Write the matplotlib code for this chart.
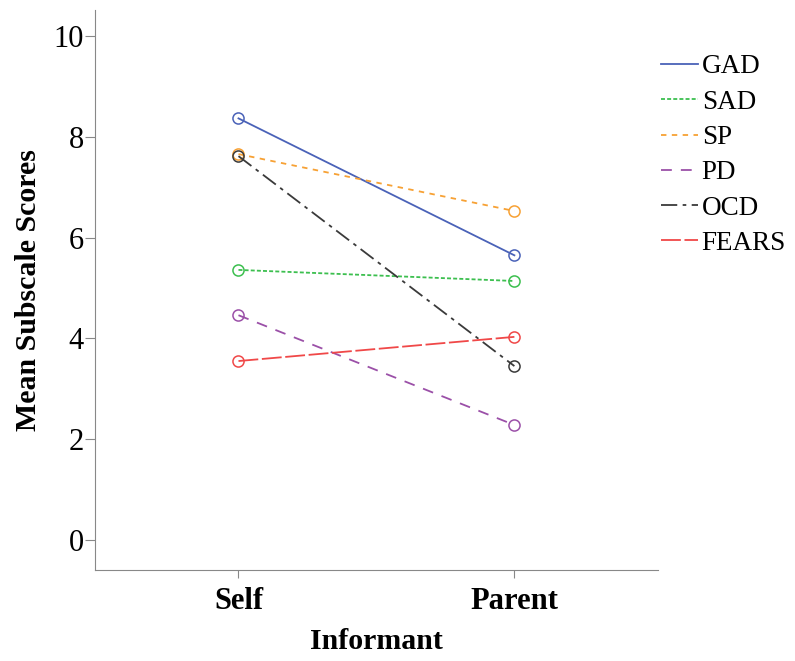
import matplotlib
matplotlib.use("Agg")
import matplotlib.pyplot as plt

informants = ["Self", "Parent"]
subscales = ["GAD", "SAD", "SP", "PD", "OCD", "FEARS"]
gad = [8.37, 5.65]
sad = [5.36, 5.14]
sp = [7.66, 6.53]
pd_ = [4.46, 2.28]
ocd = [7.62, 3.45]
fears = [3.55, 4.03]

colors = ["#4a62b8", "#3cbf4f", "#f7a134", "#9b50a8", "#3a3a3a", "#f04848"]
styles = ["-", (0, (2.2, 1.2)), (0, (3, 3)), (0, (6, 5)), (0, (9, 3, 2, 3)), (0, (11, 2))]

plt.rcParams["font.family"] = ["Liberation Serif", "DejaVu Serif"]

fig = plt.figure(figsize=(7.95, 6.61), dpi=100)
ax = fig.add_axes([0.1195, 0.1377, 0.708, 0.847])

x = list(range(len(informants)))
for name, vals, c, ls in zip(subscales, [gad, sad, sp, pd_, ocd, fears], colors, styles):
    ax.plot(x, vals, color=c, linestyle=ls, linewidth=1.3, marker="o",
            markersize=8, markerfacecolor="none", markeredgecolor=c,
            markeredgewidth=1.1, label=name)

ax.set_xlim(-0.52, 1.52)
ax.set_ylim(-0.6, 10.52)
ax.set_xticks(x)
ax.set_xticklabels(informants, fontsize=22, fontweight="bold")
ax.set_yticks([0, 2, 4, 6, 8, 10])
ax.tick_params(axis="y", labelsize=22, length=7, color="#888888", pad=1)
ax.tick_params(axis="x", length=6, color="#888888", pad=6)
for s in ["top", "right"]:
    ax.spines[s].set_visible(False)
for s in ["left", "bottom"]:
    ax.spines[s].set_color("#888888")
ax.set_xlabel("Informant", fontsize=21.5, fontweight="bold", labelpad=9)
ax.set_ylabel("Mean Subscale Scores", fontsize=21.5, fontweight="bold", labelpad=8)

leg = fig.legend(loc="upper left", bbox_to_anchor=(0.818, 0.934), frameon=False,
                 fontsize=19.5, handlelength=1.35, handletextpad=0.15,
                 labelspacing=0.38, borderaxespad=0)
for h in leg.legend_handles:
    h.set_marker("")

fig.savefig("out.png", dpi=100)
